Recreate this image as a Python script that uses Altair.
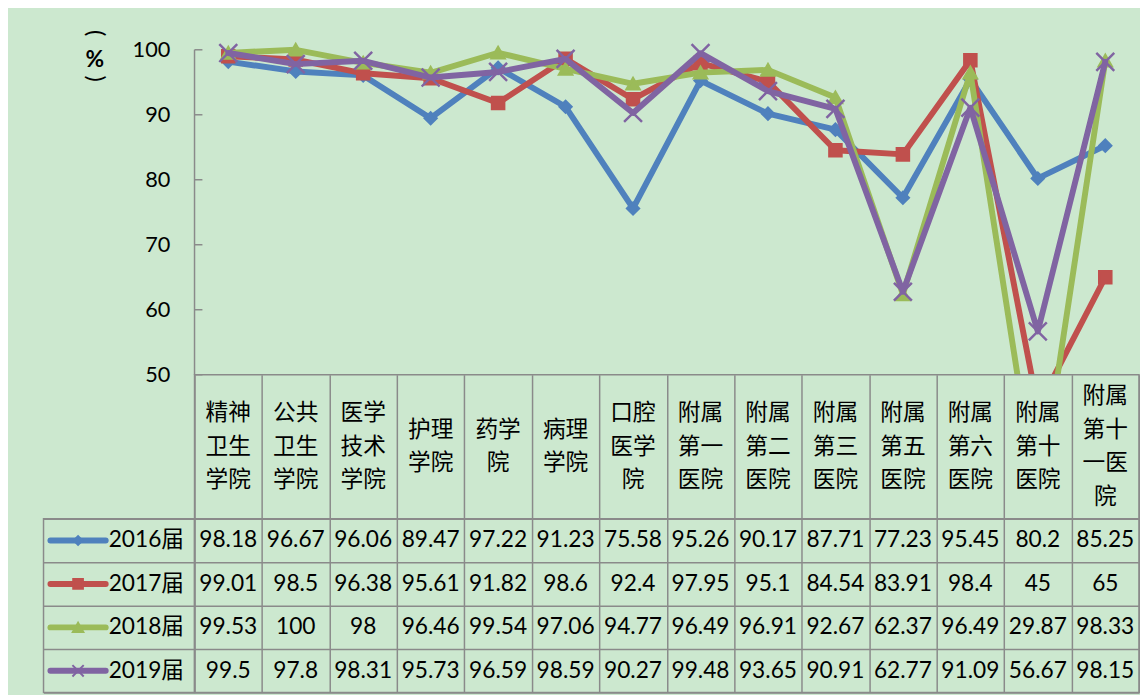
import altair as alt
import pandas as pd

categories = ["精神卫生学院", "公共卫生学院", "医学技术学院", "护理学院", "药学院", "病理学院",
              "口腔医学院", "附属第一医院", "附属第二医院", "附属第三医院", "附属第五医院",
              "附属第六医院", "附属第十医院", "附属第十一医院"]
years = ["2016届", "2017届", "2018届", "2019届"]
v2016 = [98.18, 96.67, 96.06, 89.47, 97.22, 91.23, 75.58, 95.26, 90.17, 87.71, 77.23, 95.45, 80.2, 85.25]
v2017 = [99.01, 98.5, 96.38, 95.61, 91.82, 98.6, 92.4, 97.95, 95.1, 84.54, 83.91, 98.4, 45, 65]
v2018 = [99.53, 100, 98, 96.46, 99.54, 97.06, 94.77, 96.49, 96.91, 92.67, 62.37, 96.49, 29.87, 98.33]
v2019 = [99.5, 97.8, 98.31, 95.73, 96.59, 98.59, 90.27, 99.48, 93.65, 90.91, 62.77, 91.09, 56.67, 98.15]
y_ticks = [50, 60, 70, 80, 90, 100]
unit_parts = ["(", "%", ")"]

colors = ["#4F81BD", "#C0504D", "#9BBB59", "#8064A2"]
X_PATH = "M-1,-1L1,1M-1,1L1,-1"
shapes = ["diamond", "square", "triangle-up", X_PATH]
sizes = [140, 150, 170, 330]
leg_sizes = [80, 130, 110, 250]

GRID = "#8a8a8a"
BG = "#CCE8CF"
NUM_FONT = "Lato, 'Noto Sans CJK SC'"
CJK_FONT = "Noto Sans CJK SC"

W = 957
W_LEG = 153
Y_MAX = 103
H_PLOT = 349
H_LAB = 146
H_TAB = 176
LINE_H = 34

series = dict(zip(years, [v2016, v2017, v2018, v2019]))
rows = []
for yr, vals in series.items():
    for c, v in zip(categories, vals):
        rows.append({"year": yr, "cat": c, "value": v, "text": f"{v:g}"})
df = pd.DataFrame(rows)

# ---------- line chart ----------
x_enc = alt.X("cat:N", sort=categories, scale=alt.Scale(type="point", padding=0.5), axis=None)
y_scale = alt.Scale(domain=[50, Y_MAX], nice=False, zero=False)
y_axis = alt.Axis(values=y_ticks, domain=False, ticks=False, grid=False,
                  labelFont="Lato", labelFontSize=22, labelColor="black", labelPadding=25,
                  title=None)
y_enc = alt.Y("value:Q", scale=y_scale, axis=y_axis)

layers = []
for yr, col, shp, sz in zip(years, colors, shapes, sizes):
    base = alt.Chart(df).transform_filter(alt.datum.year == yr)
    layers.append(base.mark_line(color=col, strokeWidth=6, clip=True, strokeJoin="round",
                                 strokeCap="round").encode(x=x_enc, y=y_enc))
    layers.append(base.mark_point(shape=shp, size=sz, filled=True, fill=col, stroke=col,
                                  strokeWidth=2.5, opacity=1, clip=True).encode(x=x_enc, y=y_enc))

tick_df = pd.DataFrame({"value": y_ticks})
tick_rules = alt.Chart(tick_df).mark_rule(color=GRID, strokeWidth=1.5).encode(
    y=y_enc, x=alt.value(0), x2=alt.value(8))
axis_df = pd.DataFrame({"value": [min(y_ticks)], "hi": [max(y_ticks)]})
axis_rule = alt.Chart(axis_df).mark_rule(color=GRID, strokeWidth=1.5).encode(
    y=y_enc, y2="hi:Q", x=alt.value(0))

# unit label "（%）" written vertically
unit_df = pd.DataFrame({"t": unit_parts})
unit_open = alt.Chart(unit_df).transform_filter(alt.datum.t == "(").mark_text(
    font="Lato", fontSize=24, angle=90, align="center", baseline="middle", color="black").encode(
    x=alt.value(-101), y=alt.value(3), text="t:N")
unit_pct = alt.Chart(unit_df).transform_filter(alt.datum.t == "%").mark_text(
    font="Lato", fontSize=23, fontWeight="bold", align="center", baseline="middle",
    color="black").encode(x=alt.value(-101), y=alt.value(30), text="t:N")
unit_close = alt.Chart(unit_df).transform_filter(alt.datum.t == ")").mark_text(
    font="Lato", fontSize=24, angle=90, align="center", baseline="middle", color="black").encode(
    x=alt.value(-101), y=alt.value(49), text="t:N")

line_chart = alt.layer(*layers, tick_rules, axis_rule, unit_open, unit_pct, unit_close).properties(
    width=W, height=H_PLOT, view=alt.ViewBackground(stroke="transparent"))

# ---------- category label row ----------
band = alt.Scale(type="band", paddingInner=0, paddingOuter=0)
grid_axis = dict(tickBand="extent", grid=True, gridColor=GRID, gridWidth=1.5,
                 labels=False, ticks=False, domain=False, title=None)

lab_rows = []
for c in categories:
    parts = [c[i:i + 2] for i in range(0, len(c), 2)]
    n = len(parts)
    for k, p in enumerate(parts):
        lab_rows.append({"cat": c, "line": p, "off": k - (n - 1) / 2})
lab_df = pd.DataFrame(lab_rows)
half = H_LAB / 2 / LINE_H
label_chart = alt.Chart(lab_df).mark_text(
    font=CJK_FONT, fontSize=23, baseline="middle", color="black").encode(
    x=alt.X("cat:N", sort=categories, scale=band, axis=alt.Axis(**grid_axis)),
    y=alt.Y("off:Q", scale=alt.Scale(domain=[half, -half], nice=False, zero=False), axis=None),
    text="line:N").properties(width=W, height=H_LAB)

# ---------- data table ----------
table_chart = alt.Chart(df).mark_text(
    font=NUM_FONT, fontSize=23, baseline="middle", color="black").encode(
    x=alt.X("cat:N", sort=categories, scale=band, axis=alt.Axis(orient="top", **grid_axis)),
    y=alt.Y("year:N", sort=years, scale=band, axis=alt.Axis(**grid_axis)),
    text="text:N").properties(width=W, height=H_TAB)

# ---------- legend column ----------
leg_df = pd.DataFrame({"year": years})
leg_y = alt.Y("year:N", sort=years, scale=band, axis=alt.Axis(**grid_axis))
col_scale = alt.Scale(domain=years, range=colors)
leg_rule = alt.Chart(leg_df).mark_rule(strokeWidth=6, strokeCap="round").encode(
    y=leg_y, x=alt.value(7), x2=alt.value(63),
    color=alt.Color("year:N", scale=col_scale, legend=None))
leg_pts = alt.Chart(leg_df).mark_point(filled=True, strokeWidth=2, opacity=1).encode(
    y=leg_y, x=alt.value(35),
    fill=alt.Fill("year:N", scale=col_scale, legend=None),
    stroke=alt.Stroke("year:N", scale=col_scale, legend=None),
    shape=alt.Shape("year:N", scale=alt.Scale(domain=years, range=shapes), legend=None),
    size=alt.Size("year:N", scale=alt.Scale(domain=years, range=leg_sizes), legend=None))
leg_text = alt.Chart(leg_df).mark_text(
    font=NUM_FONT, fontSize=23, align="left", baseline="middle", color="black").encode(
    y=leg_y, x=alt.value(66), text="year:N")
legend_chart = alt.layer(leg_rule, leg_pts, leg_text).properties(width=W_LEG, height=H_TAB)


def spacer(h):
    return alt.Chart(pd.DataFrame({"a": [0]})).mark_point(opacity=0).encode(
        x=alt.value(0), y=alt.value(0)).properties(
        width=W_LEG, height=h, view=alt.ViewBackground(stroke="transparent"))


chart = alt.concat(
    spacer(H_PLOT), line_chart,
    spacer(H_LAB), label_chart,
    legend_chart, table_chart,
    columns=2, spacing=0, bounds="flush", align="each",
).properties(
    background=BG,
    padding={"left": 32, "top": 14, "right": 0, "bottom": 2},
).configure_view(stroke=GRID, strokeWidth=1.5)

chart.save("out.html", embed_options={"renderer": "svg", "actions": False})
